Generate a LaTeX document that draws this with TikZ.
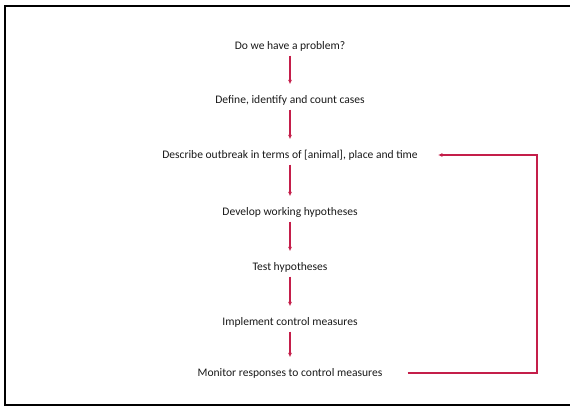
\documentclass[tikz,border=0pt]{standalone}
\usepackage{fontspec}
\setmainfont{Carlito}
\usepackage[x11names]{xcolor}
\usetikzlibrary{arrows.meta}

\definecolor{pfeilrot}{HTML}{C41E4A}

\begin{document}
\begin{tikzpicture}[%
		x=1bp, y=-1bp,
		font=\fontsize{11.6}{13}\selectfont,
		>={Latex[length=4.5bp,width=4bp]},
		schritt/.style={text=black!90, inner sep=0pt, text height=8.5bp, text depth=2.5bp},
		pfeil/.style={->, pfeilrot, line width=1.1bp, shorten <=4bp, shorten >=10bp}
		]

		%% Rahmen
		\useasboundingbox (0,0) rectangle (570,408);
		\draw[line width=1.6bp] (580,6) -- (5,6) -- (5,405) -- (580,405);

		\node[schritt] (problem)   at (290,46)  {Do we have a problem?};
		\node[schritt] (cases)     at (290,100) {Define, identify and count cases};
		\node[schritt] (describe)  at (290,155) {Describe outbreak in terms of [animal], place and time};
		\node[schritt] (develop)   at (290,212) {Develop working hypotheses};
		\node[schritt] (test)      at (290,267) {Test hypotheses};
		\node[schritt] (implement) at (290,322) {Implement control measures};
		\node[schritt] (monitor)   at (290,373) {Monitor responses to control measures};

		\draw[pfeil] (problem.south) -- (cases.north);
		\draw[pfeil] (cases.south) -- (describe.north);
		\draw[pfeil] (describe.south) -- (develop.north);
		\draw[pfeil] (develop.south) -- (test.north);
		\draw[pfeil] (test.south) -- (implement.north);
		\draw[pfeil] (implement.south) -- (monitor.north);

		%% Rueckfuehrung
		\coordinate (ecke) at (537,155);
		\draw[->, pfeilrot, line width=1.1bp] ([xshift=25bp]monitor.east) -| (ecke) -- ([xshift=20bp]describe.east);
	\end{tikzpicture}
\end{document}
